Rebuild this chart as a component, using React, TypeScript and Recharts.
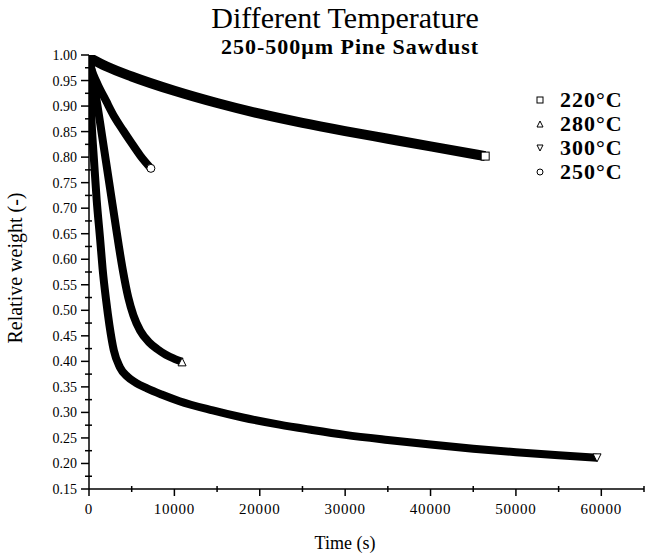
import React from 'react';
import { LineChart, Line, XAxis, YAxis, Legend } from 'recharts';

// time (s) and relative weight (-)
const t220 = [0, 2000, 5000, 10000, 15000, 20000, 25000, 30000, 35000, 40000, 46400];
const w220 = [0.995, 0.978, 0.958, 0.93, 0.906, 0.885, 0.867, 0.851, 0.836, 0.821, 0.802];

const t280 = [0, 500, 1000, 1500, 2000, 2500, 3000, 3500, 4000, 4600, 5200, 6000, 7000, 8000, 9000, 10000, 10900];
const w280 = [1.0, 0.95, 0.9, 0.845, 0.79, 0.735, 0.68, 0.625, 0.575, 0.525, 0.49, 0.46, 0.438, 0.424, 0.413, 0.405, 0.399];

const t300 = [0, 300, 600, 900, 1300, 1600, 2000, 2400, 2900, 3600, 4500, 5500, 6800, 8500, 10600, 14500, 18000, 22300, 26000, 30000, 35000, 40000, 45000, 50000, 55000, 59500];
const w300 = [1.0, 0.87, 0.79, 0.716, 0.64, 0.58, 0.52, 0.47, 0.422, 0.389, 0.37, 0.358, 0.347, 0.335, 0.322, 0.304, 0.29, 0.276, 0.266, 0.256, 0.246, 0.237, 0.229, 0.222, 0.216, 0.211];

const t250 = [0, 500, 1000, 2000, 3000, 4000, 5000, 6000, 7250];
const w250 = [0.985, 0.962, 0.943, 0.91, 0.878, 0.852, 0.827, 0.803, 0.778];

const xMajor = [0, 10000, 20000, 30000, 40000, 50000, 60000];
const yMajor = [0.15, 0.2, 0.25, 0.3, 0.35, 0.4, 0.45, 0.5, 0.55, 0.6, 0.65, 0.7, 0.75, 0.8, 0.85, 0.9, 0.95, 1.0];

const xTicks = [...xMajor, ...xMajor.map(v => v + 5000)];
const yTicks = [...yMajor, ...yMajor.slice(0, -1).map(v => v + 0.025)];

const toRows = (t: number[], w: number[]) => t.map((time, i) => ({ time, w: w[i] }));

const series = [
  { name: '220°C', shape: 'square', width: 10, data: toRows(t220, w220) },
  { name: '280°C', shape: 'up', width: 8, data: toRows(t280, w280) },
  { name: '300°C', shape: 'down', width: 8, data: toRows(t300, w300) },
  { name: '250°C', shape: 'circle', width: 8, data: toRows(t250, w250) },
];

const serif = '"Liberation Serif", "Times New Roman", serif';

function Marker({ shape, cx, cy, r = 3.5 }: { shape: string; cx: number; cy: number; r?: number }) {
  const p = { fill: '#fff', stroke: '#000', strokeWidth: 1 };
  if (shape === 'square') return <rect x={cx - r} y={cy - r} width={r * 2} height={r * 2} {...p} />;
  if (shape === 'circle') return <circle cx={cx} cy={cy} r={r} {...p} />;
  if (shape === 'up') return <polygon points={`${cx},${cy - r} ${cx + r},${cy + r} ${cx - r},${cy + r}`} {...p} />;
  return <polygon points={`${cx - r},${cy - r} ${cx + r},${cy - r} ${cx},${cy + r}`} {...p} />;
}

const YTick = (props: any) => {
  const { x, y, payload } = props;
  const major = yMajor.some(v => Math.abs(v - payload.value) < 1e-6);
  return (
    <g>
      <line x1={x - (major ? 8 : 4)} x2={x + (major ? 0 : 3)} y1={y} y2={y} stroke="#000" strokeWidth={1.5} />
      {major && (
        <text x={x - 12} y={y} dy={5} textAnchor="end" fontSize={14} fontFamily={serif} fill="#000">
          {payload.value.toFixed(2)}
        </text>
      )}
    </g>
  );
};

const XTick = (props: any) => {
  const { x, y, payload } = props;
  const major = payload.value % 10000 === 0;
  return (
    <g>
      <line x1={x} x2={x} y1={y - (major ? 0 : 3)} y2={y + (major ? 7 : 3)} stroke="#000" strokeWidth={1.5} />
      {major && (
        <text x={x} y={y + 25} textAnchor="middle" fontSize={15} fontFamily={serif} fill="#000" letterSpacing={0.8}>
          {payload.value}
        </text>
      )}
    </g>
  );
};

// legend keeps the series order (220, 280, 300, 250)
const LegendBox = () => (
  <div style={{ fontFamily: serif, fontSize: 22, fontWeight: 'bold', letterSpacing: 1 }}>
    {series.map(s => (
      <div key={s.name} style={{ display: 'flex', alignItems: 'center', height: 24 }}>
        <svg width={16} height={20} style={{ marginRight: 12 }}>
          <Marker shape={s.shape} cx={8} cy={10} r={3} />
        </svg>
        <span>{s.name}</span>
      </div>
    ))}
  </div>
);

export default function App() {
  return (
    <div style={{ position: 'absolute', left: 0, top: 0, width: 653, height: 559, background: '#fff' }}>
      <div style={{ position: 'absolute', left: 145, width: 400, textAlign: 'center', top: 1, fontFamily: serif, fontSize: 30, whiteSpace: 'nowrap' }}>
        Different Temperature
      </div>
      <div style={{ position: 'absolute', left: 150, width: 400, textAlign: 'center', top: 34, fontFamily: serif, fontSize: 22, fontWeight: 'bold', letterSpacing: 1, whiteSpace: 'nowrap' }}>
        250-500μm Pine Sawdust
      </div>
      <LineChart width={653} height={559} margin={{ top: 55, right: 9, bottom: 0, left: 0 }}>
        <XAxis
          dataKey="time"
          type="number"
          domain={[0, 65000]}
          ticks={xTicks}
          interval={0}
          tickSize={0}
          tickMargin={0}
          tick={XTick}
          height={70}
          stroke="#000"
          strokeWidth={1.5}
          allowDataOverflow
          label={{
            content: () => (
              <text x={345} y={549} textAnchor="middle" fontSize={18} fontFamily={serif} fill="#000">
                Time (s)
              </text>
            ),
          }}
        />
        <YAxis
          type="number"
          domain={[0.15, 1.0]}
          ticks={yTicks}
          interval={0}
          tickSize={0}
          tickMargin={0}
          tick={YTick}
          width={89}
          stroke="#000"
          strokeWidth={1.5}
          allowDataOverflow
          label={{
            content: () => (
              <text x={22} y={268} transform="rotate(-90 22 268)" textAnchor="middle" fontSize={20} fontFamily={serif} fill="#000">
                Relative weight (-)
              </text>
            ),
          }}
        />
        <Legend
          layout="vertical"
          align="center"
          verticalAlign="middle"
          content={LegendBox}
          wrapperStyle={{ left: 532, top: 88, width: 110 }}
        />
        {series.map(s => (
          <Line
            key={s.name}
            name={s.name}
            data={s.data}
            dataKey="w"
            type="monotone"
            stroke="#000"
            strokeWidth={s.width}
            isAnimationActive={false}
            dot={(p: any) =>
              p.index === s.data.length - 1 ? (
                <Marker key={`end-${s.name}`} shape={s.shape} cx={p.cx} cy={p.cy} r={4} />
              ) : (
                <g key={`d-${s.name}-${p.index}`} />
              )
            }
            activeDot={false}
          />
        ))}
      </LineChart>
    </div>
  );
}
